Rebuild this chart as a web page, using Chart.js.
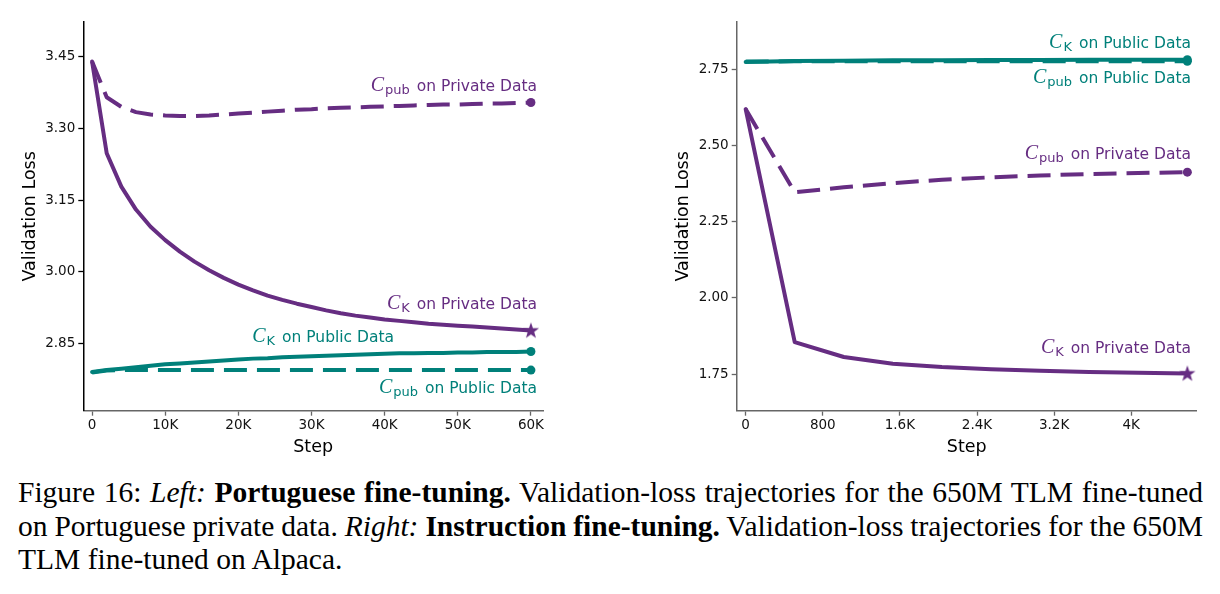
<!DOCTYPE html>
<html>
<head>
<meta charset="utf-8">
<script src="https://cdn.jsdelivr.net/npm/chart.js@4.4.0/dist/chart.umd.min.js"></script>
<style>
  body { margin: 0; background: #fff; width: 1220px; height: 594px; position: relative; overflow: hidden; }
  #left { position: absolute; left: 0; top: 0; }
  #right { position: absolute; left: 620px; top: 0; }
  #caption { position: absolute; left: 18px; top: 476px; width: 1185px;
    font-family: "Liberation Serif", serif; font-size: 29.5px; line-height: 33.5px; color: #000; }
  #caption .j { text-align: justify; text-align-last: justify; word-spacing: -3px; }
</style>
</head>
<body>
<canvas id="left" width="600" height="460"></canvas>
<canvas id="right" width="600" height="460"></canvas>
<div id="caption">
  <div class="j">Figure 16: <i>Left:</i> <b>Portuguese fine-tuning.</b> Validation-loss trajectories for the 650M TLM fine-tuned</div>
  <div class="j">on Portuguese private data. <i>Right:</i> <b>Instruction fine-tuning.</b> Validation-loss trajectories for the 650M</div>
  <div>TLM fine-tuned on Alpaca.</div>
</div>
<script>
// ---- data: left panel (Portuguese fine-tuning) ----
var leftSteps = [0, 2000, 4000, 6000, 8000, 10000, 12000, 14000, 16000, 18000, 20000,
  22000, 24000, 26000, 28000, 30000, 32000, 34000, 36000, 38000, 40000,
  42000, 44000, 46000, 48000, 50000, 52000, 54000, 56000, 58000, 60000];
var leftCkPrivate = [3.440, 3.248, 3.178, 3.130, 3.094, 3.066, 3.042, 3.021, 3.003, 2.987, 2.973,
  2.961, 2.950, 2.941, 2.933, 2.926, 2.919, 2.913, 2.908, 2.904, 2.900,
  2.897, 2.894, 2.891, 2.889, 2.887, 2.885, 2.883, 2.881, 2.879, 2.877];
var leftCpubPrivate = [3.440, 3.365, 3.345, 3.334, 3.329, 3.327, 3.326, 3.326, 3.327, 3.329, 3.331,
  3.333, 3.335, 3.337, 3.339, 3.340, 3.342, 3.343, 3.344, 3.345, 3.346,
  3.347, 3.348, 3.349, 3.350, 3.350, 3.351, 3.352, 3.352, 3.353, 3.354];
var leftCkPublic = [2.790, 2.794, 2.797, 2.800, 2.803, 2.806, 2.808, 2.810, 2.812, 2.814, 2.816,
  2.818, 2.819, 2.821, 2.822, 2.823, 2.824, 2.825, 2.826, 2.827, 2.828,
  2.829, 2.829, 2.830, 2.830, 2.831, 2.831, 2.832, 2.832, 2.832, 2.833];
var leftCpubPublic = [2.789, 2.793, 2.794, 2.794, 2.794, 2.794, 2.794, 2.794, 2.794, 2.794, 2.794,
  2.794, 2.794, 2.794, 2.794, 2.794, 2.794, 2.794, 2.794, 2.794, 2.794,
  2.794, 2.794, 2.794, 2.794, 2.794, 2.794, 2.794, 2.794, 2.794, 2.794];
var leftXTicks = [0, 10000, 20000, 30000, 40000, 50000, 60000];
var leftYTicks = [2.85, 3.00, 3.15, 3.30, 3.45];

// ---- data: right panel (Instruction fine-tuning) ----
var rightSteps = [0, 509, 1018, 1527, 2036, 2545, 3054, 3563, 4072, 4582];
var rightCkPrivate = [2.620, 1.855, 1.806, 1.784, 1.773, 1.766, 1.761, 1.757, 1.754, 1.752];
var rightCpubPrivate = [2.620, 2.347, 2.363, 2.377, 2.388, 2.396, 2.402, 2.407, 2.410, 2.413];
var rightCkPublic = [2.775, 2.778, 2.779, 2.780, 2.780, 2.781, 2.781, 2.782, 2.782, 2.782];
var rightCpubPublic = [2.776, 2.777, 2.777, 2.777, 2.777, 2.777, 2.777, 2.777, 2.777, 2.777];
var rightXTicks = [0, 800, 1600, 2400, 3200, 4000];
var rightYTicks = [1.75, 2.00, 2.25, 2.50, 2.75];

var PURPLE = '#662d82';
var TEAL = '#00807a';

// filled five-point star used as end marker
var star = document.createElement('canvas');
star.width = 18; star.height = 18;
(function () {
  var c = star.getContext('2d');
  c.fillStyle = PURPLE;
  c.beginPath();
  for (var i = 0; i < 10; i++) {
    var r = i % 2 === 0 ? 8.5 : 3.4;
    var a = -Math.PI / 2 + i * Math.PI / 5;
    c.lineTo(9 + r * Math.cos(a), 9.5 + r * Math.sin(a));
  }
  c.closePath();
  c.fill();
})();

function pts(steps, vals) {
  return steps.map(function (s, i) { return { x: s, y: vals[i] }; });
}

function series(steps, vals, color, dashed, endStyle) {
  var last = vals.length - 1;
  return {
    data: pts(steps, vals),
    borderColor: color,
    backgroundColor: color,
    borderWidth: 4,
    borderDash: dashed ? [23, 10] : [],
    borderCapStyle: dashed ? 'butt' : 'round',
    borderJoinStyle: 'round',
    tension: 0,
    pointStyle: function (c) { return c.dataIndex === last ? endStyle : 'circle'; },
    pointRadius: function (c) { return c.dataIndex === last ? 4.5 : 0; },
    pointBorderWidth: 0
  };
}

// text labels like "C_K on Private Data", drawn next to the curves
function curveLabels(list) {
  return {
    id: 'curveLabels',
    afterDatasetsDraw: function (chart) {
      var ctx = chart.ctx, xs = chart.scales.x, ys = chart.scales.y;
      ctx.save();
      ctx.textBaseline = 'alphabetic';
      ctx.textAlign = 'left';
      list.forEach(function (l) {
        var right = xs.getPixelForValue(l.x), base = ys.getPixelForValue(l.y);
        var cFont = 'italic 20px "Liberation Serif"';
        var subFont = '13px "DejaVu Sans"';
        var mainFont = '15.5px "DejaVu Sans"';
        ctx.font = cFont; var wC = ctx.measureText('C').width;
        ctx.font = subFont; var wS = ctx.measureText(l.sub).width;
        ctx.font = mainFont; var wT = ctx.measureText(l.text).width;
        var x = right - (wC + 1 + wS + 7 + wT);
        ctx.fillStyle = l.color;
        ctx.font = cFont; ctx.fillText('C', x, base);
        ctx.font = subFont; ctx.fillText(l.sub, x + wC + 1, base + 3);
        ctx.font = mainFont; ctx.fillText(l.text, right - wT, base);
      });
      ctx.restore();
    }
  };
}

function panel(id, o) {
  var tickFont = { family: 'DejaVu Sans', size: 13.5 };
  var titleFont = { family: 'DejaVu Sans', size: 17.5 };
  return new Chart(document.getElementById(id), {
    type: 'line',
    data: { datasets: o.datasets },
    options: {
      responsive: false,
      animation: false,
      layout: { padding: o.padding },
      plugins: { legend: { display: false }, tooltip: { enabled: false } },
      scales: {
        x: {
          type: 'linear', min: o.xMin, max: o.xMax,
          afterBuildTicks: function (s) { s.ticks = o.xTicks.map(function (v) { return { value: v }; }); },
          afterFit: function (s) { s.height = 49.3; },
          border: { display: true, color: '#666', width: 1.5 },
          grid: { drawOnChartArea: false, drawTicks: true, tickLength: 5, tickColor: '#666', tickWidth: 1.3 },
          ticks: { color: '#111', font: tickFont, padding: 2, maxRotation: 0, callback: o.xFmt },
          title: { display: true, text: 'Step', color: '#000', font: titleFont, padding: { top: 0, bottom: 2 } }
        },
        y: {
          min: o.yMin, max: o.yMax,
          afterBuildTicks: function (s) { s.ticks = o.yTicks.map(function (v) { return { value: v }; }); },
          afterFit: function (s) { s.width = 70; },
          border: { display: true, color: o.yAxisColor, width: 1.5 },
          grid: { drawOnChartArea: false, drawTicks: true, tickLength: 5, tickColor: o.yAxisColor, tickWidth: 1.3 },
          ticks: { color: '#111', font: tickFont, padding: 3, callback: function (v) { return v.toFixed(2); } },
          title: { display: true, text: 'Validation Loss', color: '#000', font: titleFont, padding: { top: o.yTitlePad, bottom: 0 } }
        }
      }
    },
    plugins: [curveLabels(o.labels)]
  });
}

panel('left', {
  datasets: [
    series(leftSteps, leftCkPrivate, PURPLE, false, star),
    series(leftSteps, leftCpubPrivate, PURPLE, true, 'circle'),
    series(leftSteps, leftCkPublic, TEAL, false, 'circle'),
    series(leftSteps, leftCpubPublic, TEAL, true, 'circle')
  ],
  padding: { left: 13.3, right: 57, top: 22, bottom: 0 },
  xMin: -1200, xMax: 61650, xTicks: leftXTicks,
  xFmt: function (v) { return v === 0 ? '0' : (v / 1000) + 'K'; },
  yMin: 2.709, yMax: 3.5226, yTicks: leftYTicks,
  yAxisColor: '#000', yTitlePad: 6.2,
  labels: [
    { sub: 'pub', text: 'on Private Data', color: PURPLE, x: 60834, y: 3.378 },
    { sub: 'K', text: 'on Private Data', color: PURPLE, x: 60834, y: 2.921 },
    { sub: 'K', text: 'on Public Data', color: TEAL, x: 41285, y: 2.853 },
    { sub: 'pub', text: 'on Public Data', color: TEAL, x: 60834, y: 2.747 }
  ]
});

panel('right', {
  datasets: [
    series(rightSteps, rightCkPrivate, PURPLE, false, star),
    series(rightSteps, rightCpubPrivate, PURPLE, true, 'circle'),
    series(rightSteps, rightCkPublic, TEAL, false, 'circle'),
    series(rightSteps, rightCpubPublic, TEAL, true, 'circle')
  ],
  padding: { left: 46.7, right: 23.3, top: 22, bottom: 0 },
  xMin: -93, xMax: 4679, xTicks: rightXTicks,
  xFmt: function (v) { return v < 1000 ? String(v) : (v / 1000) + 'K'; },
  yMin: 1.6296, yMax: 2.906, yTicks: rightYTicks,
  yAxisColor: '#666', yTitlePad: 5.8,
  labels: [
    { sub: 'K', text: 'on Public Data', color: TEAL, x: 4620, y: 2.819 },
    { sub: 'pub', text: 'on Public Data', color: TEAL, x: 4620, y: 2.706 },
    { sub: 'pub', text: 'on Private Data', color: PURPLE, x: 4620, y: 2.455 },
    { sub: 'K', text: 'on Private Data', color: PURPLE, x: 4620, y: 1.818 }
  ]
});
</script>
</body>
</html>
